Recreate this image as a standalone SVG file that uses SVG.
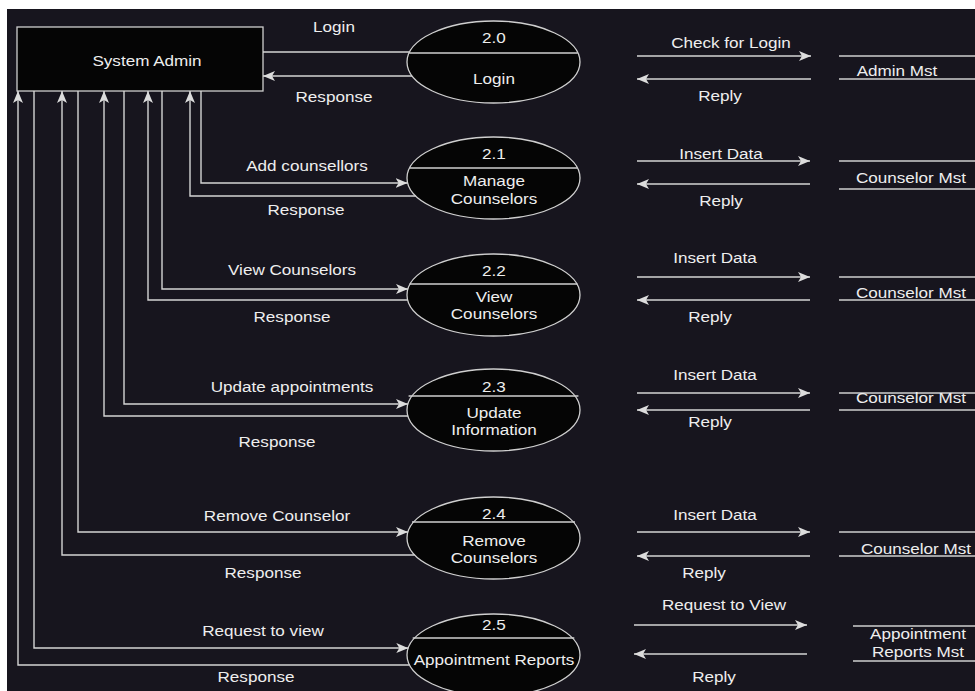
<svg xmlns="http://www.w3.org/2000/svg" width="975" height="691" viewBox="0 0 975 691">
  <defs>
    <marker id="arrow" markerUnits="userSpaceOnUse" markerWidth="12" markerHeight="10" refX="12" refY="5" orient="auto">
      <path d="M0,0 L12,5 L0,10 L3,5 Z" fill="#dcdcdc"/>
    </marker>
    <style>
      .bg { fill: #17151e; }
      .box { fill: #050505; stroke: #cfcfcf; stroke-width: 1.3; }
      .proc { fill: #050505; stroke: #cfcfcf; stroke-width: 1.3; }
      .div { stroke: #cfcfcf; stroke-width: 1.3; fill: none; }
      .flow { stroke: #d4d4d4; stroke-width: 1.4; fill: none; }
      .arr { marker-end: url(#arrow); }
      .store { stroke: #cfcfcf; stroke-width: 1.4; fill: none; }
      text { font-family: "Liberation Sans", Arial, sans-serif; font-size: 14.5px; fill: #eeeeee; text-anchor: middle; }
    </style>
  </defs>

  <!-- page -->
  <rect x="0" y="0" width="975" height="691" fill="#ffffff"/>
  <rect class="bg" x="7" y="9" width="968" height="682"/>

  <!-- external entity -->
  <g id="system-admin">
    <rect class="box" x="17" y="27" width="246" height="64"/>
    <text transform="translate(147 66) scale(1.18 1)">System Admin</text>
  </g>

  <!-- processes -->
  <g id="p2-0">
    <ellipse class="proc" cx="493.5" cy="62" rx="86.5" ry="41"/>
    <line class="div" x1="409.2" y1="53" x2="577.8" y2="53"/>
    <text transform="translate(494 43) scale(1.18 1)">2.0</text>
    <text transform="translate(494 84) scale(1.18 1)">Login</text>
  </g>
  <g id="p2-1">
    <ellipse class="proc" cx="493.5" cy="178" rx="86.5" ry="41"/>
    <line class="div" x1="409.8" y1="168" x2="577.2" y2="168"/>
    <text transform="translate(494 159) scale(1.18 1)">2.1</text>
    <text transform="translate(494 186) scale(1.18 1)">Manage</text>
    <text transform="translate(494 204) scale(1.18 1)">Counselors</text>
  </g>
  <g id="p2-2">
    <ellipse class="proc" cx="493.5" cy="295" rx="86.5" ry="41"/>
    <line class="div" x1="409.6" y1="284" x2="577.4" y2="284"/>
    <text transform="translate(494 276) scale(1.18 1)">2.2</text>
    <text transform="translate(494 302) scale(1.18 1)">View</text>
    <text transform="translate(494 319) scale(1.18 1)">Counselors</text>
  </g>
  <g id="p2-3">
    <ellipse class="proc" cx="493.5" cy="410" rx="86.5" ry="41"/>
    <line class="div" x1="408.6" y1="396" x2="578.4" y2="396"/>
    <text transform="translate(494 392) scale(1.18 1)">2.3</text>
    <text transform="translate(494 418) scale(1.18 1)">Update</text>
    <text transform="translate(494 435) scale(1.18 1)">Information</text>
  </g>
  <g id="p2-4">
    <ellipse class="proc" cx="493.5" cy="538" rx="86.5" ry="41"/>
    <line class="div" x1="412" y1="522" x2="575" y2="522"/>
    <text transform="translate(494 519) scale(1.18 1)">2.4</text>
    <text transform="translate(494 546) scale(1.18 1)">Remove</text>
    <text transform="translate(494 563) scale(1.18 1)">Counselors</text>
  </g>
  <g id="p2-5">
    <ellipse class="proc" cx="493.5" cy="655" rx="86.5" ry="41"/>
    <line class="div" x1="412.7" y1="638" x2="574.3" y2="638"/>
    <text transform="translate(494 630) scale(1.18 1)">2.5</text>
    <text transform="translate(494 665) scale(1.18 1)">Appointment Reports</text>
  </g>

  <!-- data stores -->
  <g id="store-admin">
    <line class="store" x1="839" y1="56" x2="975" y2="56"/>
    <line class="store" x1="839" y1="79" x2="975" y2="79"/>
    <text transform="translate(897 76) scale(1.18 1)">Admin Mst</text>
  </g>
  <g id="store-counselor-1">
    <line class="store" x1="839" y1="161" x2="975" y2="161"/>
    <line class="store" x1="839" y1="189" x2="975" y2="189"/>
    <text transform="translate(911 183) scale(1.18 1)">Counselor Mst</text>
  </g>
  <g id="store-counselor-2">
    <line class="store" x1="839" y1="277" x2="975" y2="277"/>
    <line class="store" x1="839" y1="300" x2="975" y2="300"/>
    <text transform="translate(911 298) scale(1.18 1)">Counselor Mst</text>
  </g>
  <g id="store-counselor-3">
    <line class="store" x1="839" y1="393" x2="975" y2="393"/>
    <line class="store" x1="839" y1="410" x2="975" y2="410"/>
    <text transform="translate(911 403) scale(1.18 1)">Counselor Mst</text>
  </g>
  <g id="store-counselor-4">
    <line class="store" x1="839" y1="532" x2="975" y2="532"/>
    <line class="store" x1="839" y1="556" x2="975" y2="556"/>
    <text transform="translate(916 554) scale(1.18 1)">Counselor Mst</text>
  </g>
  <g id="store-reports">
    <line class="store" x1="853" y1="626" x2="975" y2="626"/>
    <line class="store" x1="853" y1="661" x2="975" y2="661"/>
    <text transform="translate(918 639) scale(1.18 1)">Appointment</text>
    <text transform="translate(918 657) scale(1.18 1)">Reports Mst</text>
  </g>

  <!-- data flows -->
  <g id="connectors">
    <!-- admin <-> 2.0 -->
    <path class="flow" d="M263,52 H409.6"/>
    <path class="flow arr" d="M412,76 H263"/>
    <!-- admin <-> 2.1 -->
    <path class="flow arr" d="M201,91 V183 H407.6"/>
    <path class="flow arr" d="M415.8,196 H190 V91"/>
    <!-- admin <-> 2.2 -->
    <path class="flow arr" d="M162,91 V289 H408"/>
    <path class="flow arr" d="M407.6,300 H148 V91"/>
    <!-- admin <-> 2.3 -->
    <path class="flow arr" d="M124,91 V404 H408"/>
    <path class="flow arr" d="M408,416 H104 V91"/>
    <!-- admin <-> 2.4 -->
    <path class="flow arr" d="M78,91 V532 H408"/>
    <path class="flow arr" d="M414.8,555 H62 V91"/>
    <!-- admin <-> 2.5 -->
    <path class="flow arr" d="M34,91 V648 H408.3"/>
    <path class="flow arr" d="M409.6,665 H18 V91"/>

    <!-- process <-> store -->
    <path class="flow arr" d="M637,56 H811"/>
    <path class="flow arr" d="M811,79 H637"/>
    <path class="flow arr" d="M637,161 H810"/>
    <path class="flow arr" d="M810,184 H637"/>
    <path class="flow arr" d="M637,277 H810"/>
    <path class="flow arr" d="M810,300 H637"/>
    <path class="flow arr" d="M637,393 H810"/>
    <path class="flow arr" d="M810,410 H637"/>
    <path class="flow arr" d="M637,532 H810"/>
    <path class="flow arr" d="M810,556 H637"/>
    <path class="flow arr" d="M634,625 H807"/>
    <path class="flow arr" d="M807,654 H634"/>

    <!-- flow labels -->
    <text transform="translate(334 32) scale(1.18 1)">Login</text>
    <text transform="translate(334 102) scale(1.18 1)">Response</text>
    <text transform="translate(307 171) scale(1.18 1)">Add counsellors</text>
    <text transform="translate(306 215) scale(1.18 1)">Response</text>
    <text transform="translate(292 275) scale(1.18 1)">View Counselors</text>
    <text transform="translate(292 322) scale(1.18 1)">Response</text>
    <text transform="translate(292 392) scale(1.18 1)">Update appointments</text>
    <text transform="translate(277 447) scale(1.18 1)">Response</text>
    <text transform="translate(277 521) scale(1.18 1)">Remove Counselor</text>
    <text transform="translate(263 578) scale(1.18 1)">Response</text>
    <text transform="translate(263 636) scale(1.18 1)">Request to view</text>
    <text transform="translate(256 682) scale(1.18 1)">Response</text>

    <text transform="translate(731 48) scale(1.18 1)">Check for Login</text>
    <text transform="translate(720 101) scale(1.18 1)">Reply</text>
    <text transform="translate(721 159) scale(1.18 1)">Insert Data</text>
    <text transform="translate(721 206) scale(1.18 1)">Reply</text>
    <text transform="translate(715 263) scale(1.18 1)">Insert Data</text>
    <text transform="translate(710 322) scale(1.18 1)">Reply</text>
    <text transform="translate(715 380) scale(1.18 1)">Insert Data</text>
    <text transform="translate(710 427) scale(1.18 1)">Reply</text>
    <text transform="translate(715 520) scale(1.18 1)">Insert Data</text>
    <text transform="translate(704 578) scale(1.18 1)">Reply</text>
    <text transform="translate(724 610) scale(1.18 1)">Request to View</text>
    <text transform="translate(714 682) scale(1.18 1)">Reply</text>
  </g>
</svg>
